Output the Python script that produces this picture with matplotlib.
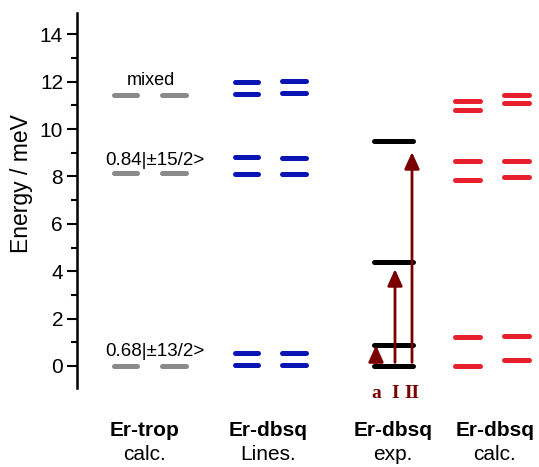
import matplotlib.pyplot as plt

plt.rcParams['font.family'] = ['Liberation Sans', 'DejaVu Sans']

# energy levels (meV), two sites per computed column
trop_a = [0.0, 8.14, 11.43]
trop_b = [0.0, 8.14, 11.43]
lines_a = [0.02, 0.55, 8.10, 8.81, 11.47, 11.98]
lines_b = [0.02, 0.54, 8.12, 8.80, 11.51, 12.02]
exp_levels = [0.0, 0.87, 4.37, 9.49]
calc_a = [-0.02, 1.24, 7.84, 8.65, 10.82, 11.18]
calc_b = [0.27, 1.25, 7.96, 8.66, 11.10, 11.42]

# transitions (start, end) and their names
transitions = [(0.15, 0.88), (0.15, 4.09), (0.15, 9.03)]
trans_names = ['a', 'I', 'II']

col_names = ['Er-trop', 'Er-dbsq', 'Er-dbsq', 'Er-dbsq']
col_sub = ['calc.', 'Lines.', 'exp.', 'calc.']

gray = '#8a8a8a'
blue = '#0a14b4'
red = '#e8202e'
dark = '#7a0000'

fig = plt.figure(figsize=(5.39, 4.67), dpi=100)
ax = fig.add_axes([77 / 539, 79 / 467, 462 / 539, 375 / 467])
ax.set_xlim(0, 4.62)
ax.set_ylim(-0.93, 14.9)


def levels(x0, x1, ys, color, lw=3.6):
    for y in ys:
        ax.plot([x0, x1], [y, y], color=color, lw=lw, solid_capstyle='round')


levels(0.37, 0.60, trop_a, gray)
levels(0.85, 1.09, trop_b, gray)
levels(1.58, 1.81, lines_a, blue)
levels(2.05, 2.29, lines_b, blue)
levels(2.97, 3.36, exp_levels, 'black')
levels(3.78, 4.03, calc_a, red)
levels(4.27, 4.52, calc_b, red)

arrow_x = [2.99, 3.18, 3.35]
for (y0, y1), xx, name in zip(transitions, arrow_x, trans_names):
    ax.annotate('', xy=(xx, y1), xytext=(xx, y0),
                arrowprops=dict(arrowstyle='-|>,head_width=0.45,head_length=1.0',
                                color=dark, lw=2.0, shrinkA=0, shrinkB=0))
    ax.text(xx, -1.17, name, ha='center', va='center', color=dark,
            fontsize=14, fontweight='bold', family='Liberation Serif')

ax.text(0.74, 12.06, 'mixed', ha='center', va='center', fontsize=13)
ax.text(0.78, 8.69, '0.84|\u00b115/2>', ha='center', va='center', fontsize=13.5)
ax.text(0.78, 0.6, '0.68|\u00b113/2>', ha='center', va='center', fontsize=13.5)

for i, (xc, n, s) in enumerate(zip([145, 268, 393, 495], col_names, col_sub)):
    fig.text(xc / 539, 1 - 430 / 467, n, ha='center', va='center',
             fontsize=15, fontweight='bold')
    fig.text(xc / 539, 1 - 455 / 467, s, ha='center', va='center', fontsize=15)

ax.set_yticks(range(0, 15, 2))
ax.set_yticks(range(1, 15, 2), minor=True)
ax.tick_params(axis='y', which='major', length=7, width=1.5, labelsize=15, pad=3)
ax.tick_params(axis='y', which='minor', length=4, width=1.5)
ax.set_xticks([])
for side in ['top', 'right', 'bottom']:
    ax.spines[side].set_visible(False)
ax.spines['left'].set_linewidth(1.8)
ax.set_ylabel('Energy / meV', fontsize=16.5)
ax.yaxis.set_label_coords(-0.095, 0.544)

fig.savefig('out.png', dpi=100)
